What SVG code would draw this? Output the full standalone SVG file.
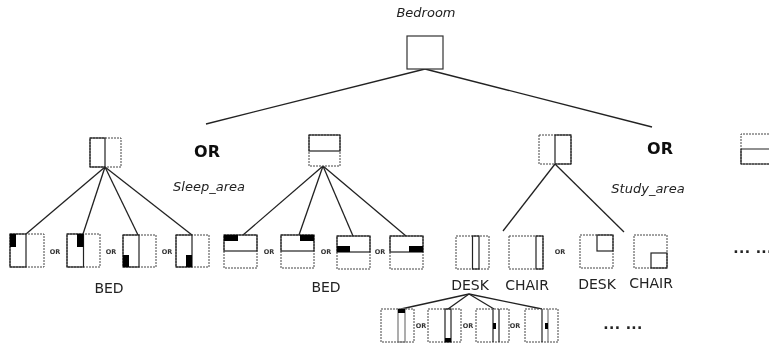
<svg xmlns="http://www.w3.org/2000/svg" width="769" height="348" viewBox="0 0 769 348">
<style>
text{font-family:"DejaVu Sans",sans-serif;fill:#222;text-anchor:middle}
.it{font-style:italic;font-size:13px}
.big{font-weight:bold;font-size:16px;fill:#111}
.or{font-weight:bold;font-size:6.5px;fill:#333}
.lab{font-size:14px}
.dots{font-weight:bold;font-size:14px;fill:#222;letter-spacing:.4px}
.d{fill:#fff;stroke:#444;stroke-width:1;stroke-dasharray:2 1}
.s{fill:none;stroke:#222;stroke-width:1.2}
.g{fill:none;stroke:#777;stroke-width:1.2}
.b{fill:#000}
#connectors line{stroke:#222;stroke-width:1.3}
</style>
<defs><filter id="soft" x="0" y="0" width="100%" height="100%"><feGaussianBlur stdDeviation="0.35"/></filter></defs>
<g filter="url(#soft)">
<rect width="769" height="348" fill="#fff"/>
<g id="connectors">
<line x1="425" y1="69" x2="206" y2="124"/><line x1="425" y1="69" x2="652" y2="127"/>
<line x1="105" y1="167" x2="26" y2="234"/><line x1="105" y1="167" x2="83" y2="234"/><line x1="105" y1="167" x2="138" y2="235"/><line x1="105" y1="167" x2="192" y2="235"/>
<line x1="323" y1="166" x2="243" y2="235"/><line x1="323" y1="166" x2="299" y2="235"/><line x1="323" y1="166" x2="353" y2="236"/><line x1="323" y1="166" x2="406" y2="236"/>
<line x1="555" y1="164" x2="503" y2="231"/><line x1="555" y1="164" x2="624" y2="232"/>
<line x1="469" y1="294" x2="401" y2="309"/><line x1="469" y1="294" x2="448" y2="309"/><line x1="469" y1="294" x2="494" y2="309"/><line x1="469" y1="294" x2="542" y2="309"/>
</g>
<g id="root"><rect x="407" y="36" width="36" height="33" fill="#fff" stroke="#333" stroke-width="1.2"/></g>
<g id="sleep"><rect class="d" x="90" y="138" width="31" height="29"/><rect class="s" x="90" y="138" width="15" height="29"/></g>
<g id="sleep-alt"><rect class="d" x="309" y="135" width="31" height="31"/><rect class="s" x="309" y="135" width="31" height="16"/></g>
<g id="study"><rect class="d" x="539" y="135" width="32" height="29"/><rect class="s" x="555" y="135" width="16" height="29"/></g>
<g id="study-alt"><path class="d" d="M769 134H741V164H769"/><path class="s" d="M741 149H769M741 149V164H769"/></g>
<g id="bed1a"><rect class="d" x="10" y="234" width="34" height="33"/><rect class="s" x="10" y="234" width="16" height="33"/><rect class="b" x="10" y="234" width="6" height="13"/></g>
<g id="bed1b"><rect class="d" x="67" y="234" width="33" height="33"/><rect class="s" x="67" y="234" width="16.500" height="33"/><rect class="b" x="77" y="234" width="6.500" height="13"/></g>
<g id="bed1c"><rect class="d" x="123" y="235" width="33" height="32"/><rect class="s" x="123" y="235" width="16" height="32"/><rect class="b" x="123" y="255" width="6" height="12"/></g>
<g id="bed1d"><rect class="d" x="176" y="235" width="33" height="32"/><rect class="s" x="176" y="235" width="16" height="32"/><rect class="b" x="186" y="255" width="6" height="12"/></g>
<g id="bed2a"><rect class="d" x="224" y="235" width="33" height="33"/><rect class="s" x="224" y="235" width="33" height="16"/><rect class="b" x="224" y="235" width="14" height="6"/></g>
<g id="bed2b"><rect class="d" x="281" y="235" width="33" height="33"/><rect class="s" x="281" y="235" width="33" height="16"/><rect class="b" x="300" y="235" width="14" height="6"/></g>
<g id="bed2c"><rect class="d" x="337" y="236" width="33" height="33"/><rect class="s" x="337" y="236" width="33" height="16"/><rect class="b" x="337" y="246" width="13" height="6"/></g>
<g id="bed2d"><rect class="d" x="390" y="236" width="33" height="33"/><rect class="s" x="390" y="236" width="33" height="16"/><rect class="b" x="409" y="246" width="14" height="6"/></g>
<g id="desk1"><rect class="d" x="456" y="236" width="33" height="33"/><rect class="s" x="472.500" y="236" width="6.500" height="33"/></g>
<g id="chair1"><rect class="d" x="509" y="236" width="34" height="33"/><rect class="s" x="536" y="236" width="7" height="33"/></g>
<g id="desk2"><rect class="d" x="580" y="235" width="33" height="33"/><rect class="s" x="597" y="235" width="16" height="16"/></g>
<g id="chair2"><rect class="d" x="634" y="235" width="33" height="33"/><rect class="s" x="651" y="253" width="16" height="15"/></g>
<g id="desk1a"><rect class="d" x="381" y="309" width="33" height="33"/><rect class="g" x="398" y="309" width="7" height="33"/><rect class="b" x="398" y="309" width="7" height="4"/></g>
<g id="desk1b"><rect class="d" x="428" y="309" width="33" height="33"/><rect class="s" x="445" y="309" width="6" height="33"/><rect class="b" x="445" y="338" width="6" height="4"/></g>
<g id="desk1c"><rect class="d" x="476" y="309" width="33" height="33"/><path class="s" d="M493 309V342M499 309V342"/><rect class="b" x="493" y="323" width="3" height="6"/></g>
<g id="desk1d"><rect class="d" x="525" y="309" width="33" height="33"/><path class="s" d="M542 309V342"/><path class="g" d="M548 309V342"/><rect class="b" x="545" y="323" width="3" height="6"/></g>
<g id="labels">
<text class="it" x="426" y="17">Bedroom</text>
<text class="big" x="207" y="157">OR</text>
<text class="big" x="660" y="154">OR</text>
<text class="it" x="209" y="191">Sleep_area</text>
<text class="it" x="648" y="193">Study_area</text>
<text class="lab" x="109" y="293">BED</text>
<text class="lab" x="326" y="292">BED</text>
<text class="lab" x="470" y="290">DESK</text>
<text class="lab" x="527" y="290">CHAIR</text>
<text class="lab" x="597" y="289">DESK</text>
<text class="lab" x="651" y="288">CHAIR</text>
<text class="or" x="55" y="254">OR</text><text class="or" x="111" y="254">OR</text><text class="or" x="167" y="254">OR</text>
<text class="or" x="269" y="254">OR</text><text class="or" x="326" y="254">OR</text><text class="or" x="380" y="254">OR</text>
<text class="or" x="560" y="254">OR</text>
<text class="or" x="421" y="328">OR</text><text class="or" x="468" y="328">OR</text><text class="or" x="515" y="328">OR</text>
<text class="dots" x="623" y="329">... ...</text>
<text class="dots" x="753" y="253">... ...</text>
</g>
</g>
</svg>
